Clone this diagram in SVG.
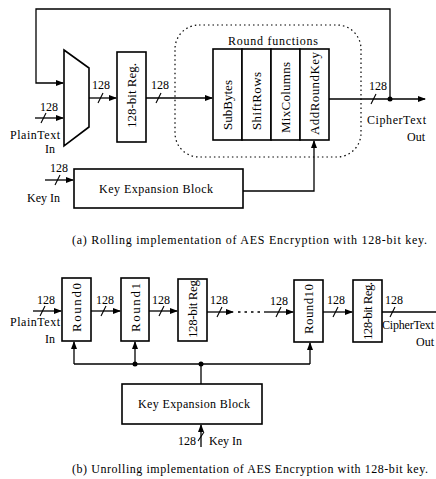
<svg xmlns="http://www.w3.org/2000/svg" width="436" height="479" viewBox="0 0 436 479">
<defs>
<marker id="ah" markerWidth="8" markerHeight="6" refX="7" refY="3" orient="auto" markerUnits="userSpaceOnUse">
<path d="M0,0 L8,3 L0,6 Z" fill="#000"/>
</marker>
<style>
.t{font-family:"Liberation Serif","Times New Roman",serif;font-size:12px;fill:#000}
.r{font-size:13px}
.c{text-anchor:middle}
.box{fill:#fff;stroke:#000;stroke-width:1.6}
.w{fill:none;stroke:#000;stroke-width:1.3}
.s{stroke:#000;stroke-width:1.1}
</style>
</defs>
<rect width="436" height="479" fill="#fff"/>

<!-- Part (a) -->
<g id="round-functions-region">
<rect x="175" y="25" width="186" height="132" rx="24" fill="none" stroke="#000" stroke-width="1.2" stroke-dasharray="1.5,3"/>
<text class="t c" x="273" y="45" textLength="90">Round functions</text>
</g>
<g id="mux"><path class="box" d="M64,50 L89,68 L89,127 L64,146 Z"/></g>
<g id="reg-a"><rect class="box" x="117" y="52" width="29" height="90"/>
<text class="t r" transform="translate(136,128) rotate(-90)" textLength="65">128-bit Reg.</text></g>
<g id="subbytes"><rect class="box" x="213" y="49" width="29" height="91"/>
<text class="t r" transform="translate(232,130) rotate(-90)" textLength="50">SubBytes</text></g>
<g id="shiftrows"><rect class="box" x="242" y="49" width="29" height="91"/>
<text class="t r" transform="translate(261,130) rotate(-90)" textLength="58">ShiftRows</text></g>
<g id="mixcolumns"><rect class="box" x="271" y="49" width="29" height="91"/>
<text class="t r" transform="translate(290,133) rotate(-90)" textLength="71">MixColumns</text></g>
<g id="addroundkey"><rect class="box" x="300" y="49" width="29" height="91"/>
<text class="t r" transform="translate(319,135) rotate(-90)" textLength="83">AddRoundKey</text></g>
<g id="keyexp-a"><rect class="box" x="74" y="169" width="169" height="39"/>
<text class="t c" x="156" y="193" textLength="114">Key Expansion Block</text></g>

<!-- Part (b) -->
<g id="round0"><rect class="box" x="62" y="278" width="29" height="63"/>
<text class="t r" transform="translate(81,332) rotate(-90)" textLength="49">Round0</text></g>
<g id="round1"><rect class="box" x="121" y="278" width="28" height="63"/>
<text class="t r" transform="translate(139.5,332) rotate(-90)" textLength="49">Round1</text></g>
<g id="reg-b1"><rect class="box" x="178" y="279" width="29" height="62"/>
<text class="t r" transform="translate(197,338) rotate(-90)" textLength="58">128-bit Reg</text></g>
<g id="round10"><rect class="box" x="294" y="280" width="29" height="62"/>
<text class="t r" transform="translate(313,334) rotate(-90)" textLength="50">Round10</text></g>
<g id="reg-b2"><rect class="box" x="353" y="280" width="29" height="62"/>
<text class="t r" transform="translate(372,340) rotate(-90)" textLength="58">128-bit Reg.</text></g>
<g id="keyexp-b"><rect class="box" x="122" y="384" width="140" height="40"/>
<text class="t c" x="194" y="408" textLength="112">Key Expansion Block</text></g>

<g id="connectors">
<!-- (a) -->
<path class="w" d="M390,99 V9 H36 V83 H63" marker-end="url(#ah)"/>
<path class="w" d="M35,118 H63" marker-end="url(#ah)"/>
<path class="w" d="M89,98 H116" marker-end="url(#ah)"/>
<path class="w" d="M146,98 H212" marker-end="url(#ah)"/>
<path class="w" d="M329,99 H425" marker-end="url(#ah)"/>
<circle cx="390" cy="99" r="2.5" fill="#000"/>
<path class="w" d="M45,180 H73" marker-end="url(#ah)"/>
<path class="w" d="M243,191 H314 V141" marker-end="url(#ah)"/>
<!-- (a) slashes -->
<path class="s" d="M41,123 L46,113"/>
<path class="s" d="M98,103 L103,93"/>
<path class="s" d="M156,103 L161,93"/>
<path class="s" d="M371,104 L376,94"/>
<path class="s" d="M55,185 L60,175"/>
<!-- (b) -->
<path class="w" d="M33,311 H61" marker-end="url(#ah)"/>
<path class="w" d="M91,311 H120" marker-end="url(#ah)"/>
<path class="w" d="M149,311 H177" marker-end="url(#ah)"/>
<path class="w" d="M207,312 H233" marker-end="url(#ah)"/>
<path class="w" d="M238,312 H262" stroke-dasharray="2.5,4" stroke-width="2.2"/>
<path class="w" d="M264,312 H293" marker-end="url(#ah)"/>
<path class="w" d="M323,312 H352" marker-end="url(#ah)"/>
<path class="w" d="M382,312 H436"/>
<path class="s" d="M40,316 L45,306"/>
<path class="s" d="M101,316 L106,306"/>
<path class="s" d="M159,316 L164,306"/>
<path class="s" d="M217,317 L222,307"/>
<path class="s" d="M276,317 L281,307"/>
<path class="s" d="M333,317 L338,307"/>
<path class="s" d="M390,317 L395,307"/>
<path class="w" d="M74,364 H310"/>
<path class="w" d="M74,364 V342" marker-end="url(#ah)"/>
<path class="w" d="M135,364 V342" marker-end="url(#ah)"/>
<path class="w" d="M310,364 V343" marker-end="url(#ah)"/>
<path class="w" d="M201,364 V384"/>
<circle cx="135" cy="364" r="2.5" fill="#000"/>
<circle cx="201" cy="364" r="2.5" fill="#000"/>
<path class="w" d="M201,447 V425" marker-end="url(#ah)"/>
<path class="s" d="M198,441 L204,432"/>
</g>

<g id="labels">
<text class="t" x="40" y="111">128</text>
<text class="t" x="10" y="139" textLength="50">PlainText</text>
<text class="t" x="45" y="153">In</text>
<text class="t" x="92" y="89">128</text>
<text class="t" x="151" y="89">128</text>
<text class="t" x="369" y="90">128</text>
<text class="t" x="367" y="124" textLength="59">CipherText</text>
<text class="t" x="407" y="141">Out</text>
<text class="t" x="50" y="172">128</text>
<text class="t" x="27" y="202">Key In</text>
<text class="t" x="72" y="244" textLength="355">(a) Rolling implementation of AES Encryption with 128-bit key.</text>

<text class="t" x="37" y="304">128</text>
<text class="t" x="10" y="326" textLength="50">PlainText</text>
<text class="t" x="45" y="343">In</text>
<text class="t" x="96" y="304">128</text>
<text class="t" x="152" y="304">128</text>
<text class="t" x="210" y="304">128</text>
<text class="t" x="270" y="305">128</text>
<text class="t" x="327" y="304">128</text>
<text class="t" x="385" y="304">128</text>
<text class="t" x="382" y="329" textLength="52">CipherText</text>
<text class="t" x="416" y="346">Out</text>
<text class="t" x="178" y="445">128</text>
<text class="t" x="209" y="445">Key In</text>
<text class="t" x="72" y="473" textLength="356">(b) Unrolling implementation of AES Encryption with 128-bit key.</text>
</g>
</svg>
